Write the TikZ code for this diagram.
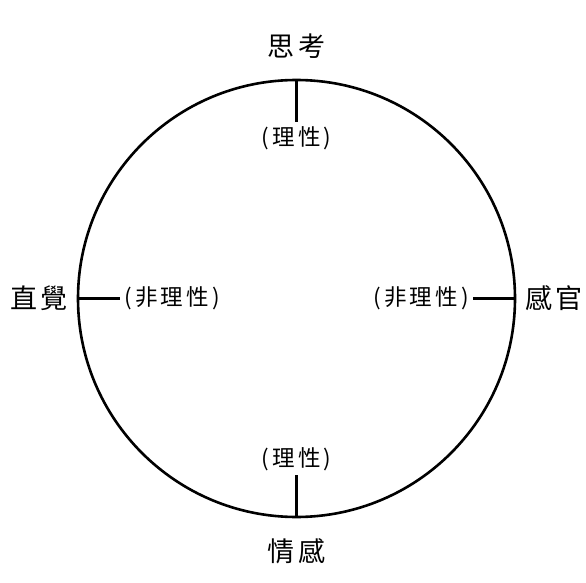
\documentclass[tikz,border=0pt]{standalone}
\usepackage{fontspec}
\usepackage{tikz}
\usetikzlibrary{positioning}
\newfontfamily\cjkbig[LetterSpace=12]{Noto Sans CJK TC}
\newfontfamily\cjksmall[LetterSpace=14]{Noto Sans CJK TC}
\tikzstyle{ring}=[draw,circle,line width=2.6pt,minimum size=437pt,inner sep=0pt,outer sep=0pt]
\tikzstyle{func}=[font=\cjkbig\fontsize{27pt}{30pt}\selectfont,inner sep=0pt]
\tikzstyle{attr}=[font=\cjksmall\fontsize{22.5pt}{25pt}\selectfont,inner sep=3pt]

\begin{document}
\begin{tikzpicture}[x=1pt,y=1pt,line width=2.6pt]
\useasboundingbox (0,0) rectangle (586,582);
\node [ring] (ring) at (296.5,283.5) {};
% four functions
\node [func, above=20pt of ring.north] (think) {思考};
\node [func, below=20pt of ring.south] (feel) {情感};
\node [func, left=9pt of ring.west] (intu) {直覺};
\node [func, right=9pt of ring.east] (sens) {感官};
% rational / irrational
\node [attr, below=42pt of ring.north] (pthink) {(理性)};
\node [attr, above=42pt of ring.south] (pfeel) {(理性)};
\node [attr, right=42pt of ring.west] (pintu) {(非理性)};
\node [attr, left=42pt of ring.east] (psens) {(非理性)};
\draw (ring.north) -- (pthink.north);
\draw (ring.south) -- (pfeel.south);
\draw (ring.west) -- (pintu.west);
\draw (ring.east) -- (psens.east);
\end{tikzpicture}
\end{document}
